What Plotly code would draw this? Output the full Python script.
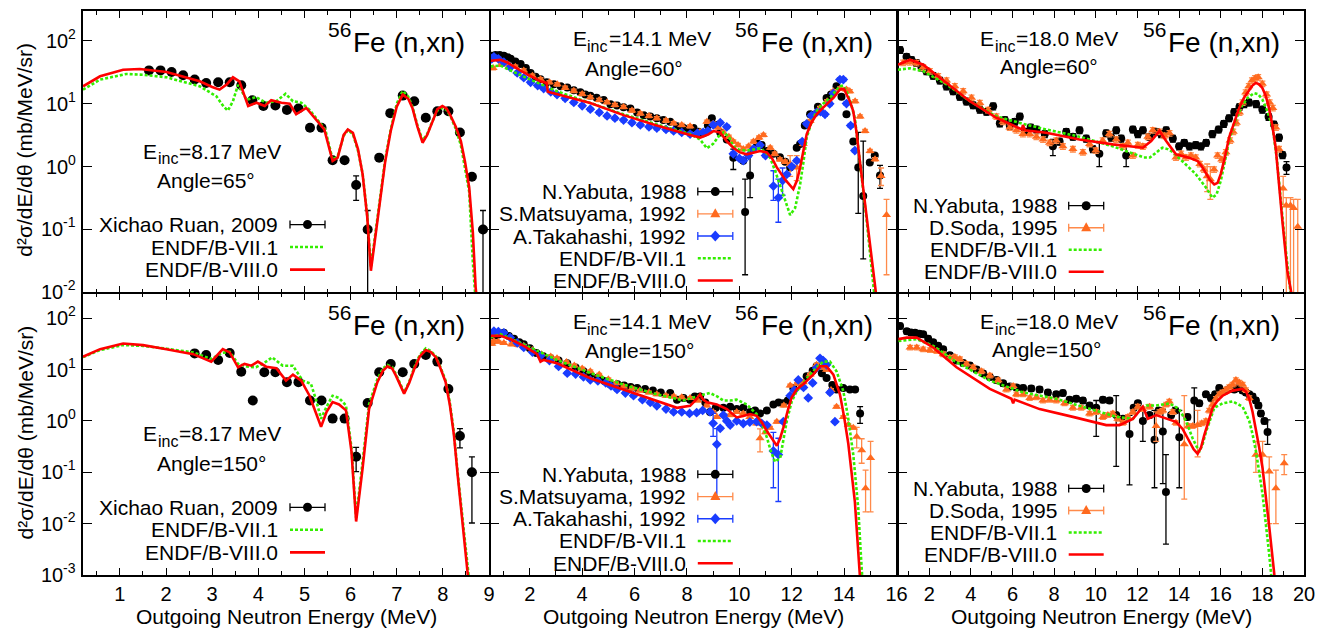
import numpy as np
import plotly.graph_objects as go

FONT = "Liberation Sans"
RED = "#ff0000"
GREEN = "#33ee00"
ORANGE = "#ff6a1f"
ORANGE_BAR = "#ff8a4a"
BLUE = "#1a3cff"
BLACK = "#000000"

# ---------------- 8.17 MeV, 65 deg ----------------
RUAN65_E = [1.63, 1.88, 2.12, 2.37, 2.62, 2.87, 3.13, 3.38, 3.63, 3.87, 4.11, 4.37, 4.62, 4.87,
            5.12, 5.37, 5.61, 5.87, 6.12, 6.37, 6.62, 6.86, 7.13, 7.38, 7.63, 7.88, 8.12, 8.37,
            8.63, 8.87]
RUAN65_Y = [34, 34, 32, 28.4, 24.3, 21.4, 22, 22, 19.7, 11.4, 9.2, 9.4, 8.0, 8.4,
            4.15, 4.15, 1.26, 1.26, 0.51, 0.10, 1.39, 7.1, 13.5, 11, 6.0, 7.6, 7.6, 3.5,
            0.69, 0.10]
RUAN65_BARS = {6.12: (0.29, 0.71), 6.37: (0.0, 0.2), 8.87: (0.0, 0.2)}

B8_65_E = [0.2, 0.57, 1.07, 1.43, 2.01, 2.73, 3.0, 3.16, 3.32, 3.45, 3.59, 3.78, 3.96, 4.14,
           4.28, 4.50, 4.68, 4.82, 5.04, 5.25, 5.43, 5.61, 5.72, 5.85, 5.94, 6.05, 6.16, 6.26,
           6.36, 6.44, 6.53, 6.62, 6.75, 6.87, 7.0, 7.13, 7.25, 7.34, 7.45, 7.56, 7.66, 7.78,
           7.88, 7.99, 8.08, 8.17, 8.28, 8.39, 8.48, 8.57, 8.65, 8.71, 8.78]
B8_65_Y = [19.0, 27.4, 34.9, 35.8, 32.1, 22.8, 18.5, 16.8, 20.5, 26.4, 22.8, 9.2, 10.4, 9.2,
           11.4, 10.4, 10.0, 6.8, 8.6, 5.6, 3.9, 1.23, 1.39, 3.2, 3.9, 3.46, 1.9, 0.76,
           0.16, 0.022, 0.07, 0.22, 1.2, 3.7, 9.0, 14.0, 12.0, 8.6, 4.3, 2.4, 3.2, 5.3,
           8.2, 9.2, 8.4, 6.4, 4.3, 2.55, 1.2, 0.47, 0.09, 0.012, 0.004]
B7_65_E = [0.2, 0.57, 1.14, 1.5, 2.01, 2.73, 3.09, 3.25, 3.34, 3.45, 3.56, 3.75, 3.95, 4.17,
           4.39, 4.59, 4.75, 4.93, 5.11, 5.30, 5.45, 5.61, 5.72, 5.85, 5.94, 6.05, 6.16, 6.26,
           6.36, 6.44, 6.53, 6.62, 6.75, 6.87, 7.0, 7.13, 7.25, 7.34, 7.45, 7.56, 7.66, 7.78,
           7.88, 7.99, 8.08, 8.17, 8.28, 8.39, 8.48, 8.57, 8.65, 8.72]
B7_65_Y = [16.8, 24.3, 29.8, 29.0, 26.4, 19.0, 13.2, 9.0, 7.8, 11.0, 20.0, 11.6, 12.8, 10.4,
           11.0, 14.4, 11.0, 10.4, 8.0, 5.3, 3.9, 1.3, 1.45, 3.1, 3.8, 3.3, 1.8, 0.78,
           0.17, 0.025, 0.08, 0.24, 1.3, 3.9, 10.0, 16.0, 13.0, 9.0, 4.5, 2.6, 3.3, 5.4,
           7.8, 8.6, 8.0, 6.2, 4.0, 2.2, 1.0, 0.4, 0.03, 0.006]

# ---------------- 8.17 MeV, 150 deg ----------------
RUAN150_E = [2.62, 2.87, 3.13, 3.38, 3.63, 3.88, 4.13, 4.37, 4.62, 4.87, 5.12, 5.37, 5.61,
             5.87, 6.12, 6.37, 6.62, 6.87, 7.13, 7.38, 7.63, 7.88, 8.12, 8.37, 8.63]
RUAN150_Y = [20.7, 19.2, 15.4, 21, 9.1, 2.5, 8.9, 8.9, 5.7, 5.7, 2.5, 2.5, 1.11,
             1.11, 0.20, 2.23, 8.9, 12.9, 8.9, 12.9, 19.2, 14.3, 4.2, 0.51, 0.10]
RUAN150_BARS = {6.12: (0.103, 0.305), 8.37: (0.30, 0.71), 8.63: (0.0103, 0.2)}

B8_150_E = [0.2, 0.57, 1.07, 1.5, 2.01, 2.59, 2.98, 3.12, 3.23, 3.38, 3.56, 3.70, 3.85, 3.99,
            4.17, 4.39, 4.60, 4.75, 4.93, 5.11, 5.25, 5.36, 5.48, 5.61, 5.75, 5.90, 6.02, 6.12,
            6.26, 6.40, 6.58, 6.70, 6.80, 6.90, 6.98, 7.08, 7.16, 7.27, 7.38, 7.5, 7.63, 7.74,
            7.85, 7.95, 8.06, 8.15, 8.24, 8.32, 8.39, 8.53, 8.6]
B8_150_Y = [17.8, 25, 32.3, 30, 25, 20, 14.3, 20, 25, 21.6, 11.1, 12.9, 11.9, 14.3,
            11.4, 10.6, 6.1, 8.0, 6.1, 3.1, 1.4, 0.77, 1.5, 2.33, 2.1, 1.61, 0.25, 0.011,
            0.12, 1.7, 5.7, 9.5, 11.6, 10.5, 7.7, 4.8, 3.4, 5.5, 10.3, 18, 24, 22,
            17.3, 10.5, 5.7, 2.1, 0.53, 0.09, 0.020, 0.001, 0.0003]
B7_150_E = [0.2, 0.57, 1.07, 1.5, 2.01, 2.59, 2.98, 3.2, 3.38, 3.56, 3.75, 3.95, 4.1, 4.3,
            4.53, 4.75, 4.96, 5.14, 5.25, 5.36, 5.48, 5.61, 5.75, 5.90, 6.02, 6.12, 6.26,
            6.40, 6.58, 6.70, 6.80, 6.90, 6.98, 7.08, 7.16, 7.27, 7.38, 7.5, 7.63, 7.74,
            7.85, 7.95, 8.06, 8.15, 8.24, 8.32, 8.39, 8.55, 8.62]
B7_150_Y = [17.5, 24, 30, 29, 25.5, 21.6, 16.1, 21, 22.3, 12.9, 11.5, 11.1, 13, 17.3,
            11.9, 11.9, 6.1, 5.3, 2.6, 1.1, 1.9, 3.1, 2.8, 2.0, 0.3, 0.013, 0.16,
            2.1, 6.5, 10.5, 12.3, 11.2, 8.2, 5.0, 3.6, 5.8, 11, 19.5, 26, 23,
            18, 11, 6.1, 2.3, 0.6, 0.1, 0.025, 0.001, 0.0003]

# ---------------- 14.1 MeV, 60 deg ----------------
YAB14_60_E = [0.55, 0.69, 0.85, 1.01, 1.15, 1.27, 1.45, 1.65, 1.85, 2.03, 2.22, 2.41, 2.65,
              2.92, 3.18, 3.43, 3.68, 3.93, 4.12, 4.31, 4.55, 4.82, 5.08, 5.33, 5.58, 5.84,
              6.1, 6.35, 6.6, 6.85, 7.1, 7.36, 7.62, 7.87, 8.06, 8.25, 8.44, 8.63, 8.8, 8.95,
              9.14, 9.27, 9.52, 9.77, 10.15, 10.22, 10.41, 10.66, 10.85, 11.05, 11.3, 11.55,
              11.75, 11.94, 12.19, 12.32, 12.5, 12.7, 13.0, 13.33, 13.5, 13.71, 13.9, 14.09,
              14.35, 14.54, 14.73, 14.98, 15.17, 15.37]
YAB14_60_Y = [58, 60, 60, 58, 55, 52, 47, 43, 37, 31, 27, 24.5, 22,
              20.4, 19, 18.1, 16.5, 15.2, 14, 13.4, 12.5, 11.5, 9.8, 9.4, 8.8, 8.4,
              7.3, 6.6, 6.3, 5.9, 5.5, 5.2, 4.4, 4.1, 3.9, 4.1, 3.6, 3.4, 4.5, 5.9,
              4.6, 3.5, 2.7, 1.39, 1.24, 0.19, 0.72, 2.4, 2.2, 1.77, 1.6, 1.41,
              1.2, 0.97, 2.0, 2.3, 4.5, 6.8, 9.0, 12.4, 14, 19, 13, 6.8,
              2.5, 0.97, 0.34, 1.16, 1.5, 0.72]
YAB14_60_BARS = {9.77: (0.9, 1.9), 10.22: (0.019, 0.63), 10.41: (0.32, 2.1),
                 14.54: (0.18, 3.5), 14.73: (0.034, 2.55), 15.37: (0.45, 1.05)}

MAT14_60_E = [0.6, 0.9, 1.14, 1.45, 1.77, 2.1, 2.41, 2.75, 3.05, 3.35, 3.68, 4.0, 4.31, 4.65,
              4.95, 5.25, 5.58, 5.9, 6.22, 6.55, 6.85, 7.2, 7.49, 7.8, 8.12, 8.5, 8.76, 9.0,
              9.2, 9.39, 9.6, 9.77, 9.95, 10.15, 10.35, 10.54, 10.75, 10.92, 11.18, 11.35,
              11.55, 11.75, 11.94, 12.19, 12.44, 12.7, 13.08, 13.35, 13.59, 13.85, 14.09,
              14.22, 14.42, 14.61, 14.8, 14.99, 15.18, 15.41, 15.62]
MAT14_60_Y = [37, 42, 43, 39, 34, 28, 24.5, 22, 20.4, 18, 16.1, 14.3, 12.7, 11.5,
              10.6, 9.6, 8.9, 7.8, 7.0, 6.4, 5.9, 5.4, 4.9, 4.6, 4.4, 3.6, 5.2, 4.8,
              4.2, 3.5, 3.0, 2.5, 2.2, 1.9, 2.1, 2.5, 2.9, 3.2, 2.0, 1.6,
              1.3, 1.2, 1.1, 0.97, 2.3, 5.3, 8.6, 11, 15.9, 17.5, 16.9,
              15.9, 11, 6.3, 3.7, 1.78, 1.31, 0.71, 0.17]
MAT14_60_BARS = {11.94: (0.7, 1.5), 12.19: (0.6, 1.5), 15.41: (0.5, 0.95),
                 15.62: (0.019, 0.30)}

TAK14_60_E = [0.55, 0.63, 0.8, 1.01, 1.25, 1.52, 1.77, 2.03, 2.3, 2.53, 2.8, 3.04, 3.35,
              3.68, 4.0, 4.31, 4.65, 4.95, 5.25, 5.58, 5.9, 6.22, 6.55, 6.85, 7.2, 7.49,
              7.8, 8.12, 8.4, 8.62, 8.8, 9.0, 9.27, 9.52, 9.77, 10.0, 10.15, 10.35, 10.54,
              10.79, 11.0, 11.3, 11.49, 11.65, 11.81, 12.0, 12.19, 12.4, 12.57, 12.75,
              12.95, 13.1, 13.27, 13.45, 13.59, 13.84, 13.97, 14.09, 14.25, 14.41]
TAK14_60_Y = [52, 56, 52, 46, 38, 31, 26, 22, 19.5, 17.5, 15.5, 14, 12.2,
              10.5, 9.3, 8.2, 7.3, 6.4, 5.9, 5.5, 5.0, 4.6, 4.3, 4.1, 3.9, 3.7,
              3.5, 3.3, 3.4, 3.5, 3.7, 4.6, 5.0, 4.3, 1.6, 1.35, 1.24, 1.5, 1.9,
              2.2, 1.5, 0.49, 0.32, 0.6, 0.75, 1.0, 1.24, 2.5, 4.8, 6.5,
              7.3, 7.5, 6.8, 10, 14.6, 24.3, 24.3, 10.1, 4.5, 1.8]
TAK14_60_BARS = {11.3: (0.29, 0.86), 11.49: (0.13, 0.63), 11.65: (0.35, 0.95)}

B8_14_60_E = [0.5, 0.88, 1.14, 1.77, 2.41, 2.64, 2.69, 3.04, 4.31, 5.58, 6.85, 8.12, 8.51,
              8.82, 9.01, 9.27, 9.5, 9.77, 10.0, 10.28, 10.55, 10.79, 11.05, 11.25, 11.43,
              11.75, 12.06, 12.2, 12.32, 12.45, 12.57, 12.75, 12.95, 13.15, 13.33, 13.6,
              13.84, 14.0, 14.09, 14.22, 14.35, 14.47, 14.6, 14.73, 14.86, 15.11, 15.21, 15.3]
B8_14_60_Y = [48.5, 50, 45.5, 31.5, 22.8, 21.5, 15.6, 14.2, 10.3, 6.6, 4.5, 3.2, 2.9,
              3.26, 3.68, 3.5, 2.6, 2.0, 1.7, 1.57, 1.65, 1.77, 1.68, 1.35, 0.97,
              0.62, 0.44, 0.6, 0.97, 1.9, 3.26, 5.0, 6.8, 8.3, 9.8, 12.5,
              16.9, 17.2, 14.2, 11.0, 7.6, 3.6, 1.23, 0.45, 0.155, 0.02, 0.01, 0.005]
B7_14_60_E = [0.5, 0.88, 1.77, 3.04, 4.31, 5.58, 6.85, 8.12, 8.5, 8.76, 9.0, 9.2, 9.4, 9.6,
              9.77, 10.0, 10.28, 10.55, 10.79, 11.0, 11.18, 11.37, 11.55, 11.75, 11.94, 12.13,
              12.32, 12.45, 12.57, 12.75, 12.95, 13.2, 13.46, 13.65, 13.84, 13.97, 14.09,
              14.25, 14.41, 14.6, 14.73, 14.86, 15.1, 15.2]
B7_14_60_Y = [39.4, 40.5, 27, 15.8, 10.3, 6.8, 4.7, 3.3, 2.7, 1.96, 2.3, 3.0, 3.5, 3.0,
              2.1, 1.85, 1.8, 1.9, 1.95, 1.7, 1.37, 0.85, 0.52, 0.28, 0.17, 0.22,
              0.52, 1.2, 2.9, 5.0, 7.6, 10, 12.4, 15.5, 19, 19.5, 15.9,
              10.5, 5.9, 1.23, 0.45, 0.14, 0.015, 0.006]

# ---------------- 14.1 MeV, 150 deg ----------------
YAB14_150_E = [0.55, 0.63, 0.8, 1.01, 1.2, 1.4, 1.6, 1.77, 2.0, 2.25, 2.5, 2.79, 3.1, 3.43,
               3.75, 4.05, 4.31, 4.6, 4.85, 5.08, 5.35, 5.6, 5.85, 6.1, 6.4, 6.7, 7.0, 7.36,
               7.62, 7.87, 8.12, 8.3, 8.5, 8.7, 8.88, 9.1, 9.39, 9.65, 9.9, 10.15, 10.41,
               10.6, 10.79, 11.05, 11.3, 11.5, 11.68, 11.85, 12.06, 12.3, 12.57, 12.8, 12.95,
               13.15, 13.33, 13.55, 13.71, 13.97, 14.22, 14.42, 14.61]
YAB14_150_Y = [35, 39, 48, 52, 45, 40, 34, 31, 26, 21, 18.5, 16.6, 15, 13.3,
               11, 9.3, 7.9, 7.0, 6.0, 5.1, 5.2, 4.9, 4.6, 4.4, 4.2, 3.9, 3.6, 3.5,
               2.6, 2.8, 2.6, 3.0, 3.0, 2.3, 1.5, 1.8, 1.8, 1.9, 1.7, 1.8, 1.5,
               1.6, 1.4, 1.6, 2.1, 2.3, 2.2, 2.5, 4.4, 5.6, 7.4, 9.5, 11.6,
               8.5, 6.9, 5.0, 4.1, 4.4, 4.1, 4.1, 1.39]
YAB14_150_BARS = {14.61: (0.9, 1.9)}

MAT14_150_E = [0.55, 0.63, 0.8, 1.01, 1.3, 1.55, 1.77, 2.1, 2.45, 2.8, 3.04, 3.4, 3.7, 4.0,
               4.31, 4.65, 5.0, 5.3, 5.58, 5.9, 6.2, 6.55, 6.85, 7.2, 7.5, 7.8, 8.12, 8.4,
               8.76, 9.0, 9.14, 9.4, 9.65, 9.9, 10.15, 10.4, 10.66, 10.79, 11.0, 11.17, 11.43,
               11.7, 11.94, 12.2, 12.44, 12.7, 12.95, 13.15, 13.33, 13.5, 13.71, 13.97, 14.16,
               14.35, 14.48, 14.67, 14.82, 15.01]
MAT14_150_Y = [32, 36, 35, 33, 31, 30, 29, 24, 20, 18, 16.6, 14, 12, 10.5,
               9.3, 8, 6.5, 5.4, 4.7, 4.3, 3.9, 3.6, 3.3, 3.1, 3.0, 2.9, 2.8, 2.5,
               2.0, 1.5, 1.2, 1.3, 1.3, 1.5, 1.4, 1.2, 0.89, 0.46, 0.6, 0.74, 0.97,
               2.0, 4.9, 5.3, 5.7, 8, 12.4, 11, 9.9, 4, 1.9, 1.2, 0.84,
               0.74, 0.49, 0.27, 0.049, 0.19]
MAT14_150_BARS = {10.79: (0.25, 0.7), 14.48: (0.3, 0.75), 14.67: (0.15, 0.45),
                  14.82: (0.017, 0.11), 15.01: (0.017, 0.4)}

TAK14_150_E = [0.55, 0.63, 0.8, 1.01, 1.25, 1.52, 1.77, 2.1, 2.41, 2.75, 3.1, 3.43, 3.75,
               4.05, 4.31, 4.6, 4.9, 5.1, 5.33, 5.65, 5.96, 6.3, 6.6, 6.85, 7.2, 7.49, 7.8,
               8.1, 8.37, 8.6, 8.88, 9.0, 9.14, 9.27, 9.39, 9.52, 9.65, 9.9, 10.15, 10.4,
               10.66, 10.85, 11.05, 11.3, 11.49, 11.68, 11.94, 12.1, 12.25, 12.45, 12.63,
               12.8, 12.95, 13.08, 13.2, 13.33, 13.46, 13.65]
TAK14_150_Y = [50, 56, 55, 52, 42, 33, 27, 22, 18.6, 15, 11.5, 8.5, 8.2,
               7.2, 6.3, 6.0, 5.5, 4.8, 4.1, 3.5, 3.1, 2.6, 2.3, 1.97, 1.7, 1.5, 1.5,
               1.4, 1.45, 1.6, 1.5, 0.9, 0.35, 0.72, 1.3, 1.0, 0.83, 1.0, 0.89, 0.95,
               0.97, 0.9, 0.83, 0.26, 0.22, 0.97, 3.1, 4.0, 6.3, 4.5, 2.8,
               5.5, 10.7, 16.6, 15, 12.4, 3.6, 0.97]
TAK14_150_BARS = {9.0: (0.5, 1.4), 9.14: (0.03, 0.71), 11.3: (0.05, 0.6),
                  11.49: (0.027, 0.46)}

B8_14_150_E = [0.5, 0.88, 1.27, 1.77, 2.28, 2.41, 2.53, 3.04, 4.31, 5.58, 6.85, 7.62, 8.12,
               8.35, 8.5, 8.62, 8.76, 9.14, 9.52, 9.9, 10.15, 10.41, 10.66, 10.85, 11.05,
               11.25, 11.43, 11.55, 11.68, 11.85, 12.0, 12.2, 12.44, 12.82, 13.08, 13.33,
               13.59, 13.84, 14.0, 14.16, 14.3, 14.41, 14.6, 14.7]
B8_14_150_Y = [45.4, 45.4, 39, 29, 20, 14.3, 15.4, 13.3, 6.8, 4.1, 2.5, 1.8, 1.97,
               2.6, 3.3, 2.6, 2.3, 2.1, 1.7, 1.17, 1.25, 1.36, 1.26, 0.95, 0.64,
               0.45, 0.33, 0.45, 0.74, 1.6, 2.9, 4.2, 5.2, 8.0, 11.6, 11.6,
               8.0, 3.3, 1.2, 0.36, 0.08, 0.027, 0.001, 0.0003]
B7_14_150_E = [0.5, 0.88, 1.77, 3.04, 4.31, 5.58, 6.85, 7.87, 8.37, 8.88, 9.15, 9.39, 9.65,
               9.9, 10.28, 10.66, 10.85, 11.05, 11.2, 11.36, 11.56, 11.81, 12.0, 12.19, 12.45,
               12.7, 13.0, 13.2, 13.46, 13.71, 13.97, 14.15, 14.35, 14.54, 14.65, 14.75]
B7_14_150_Y = [42, 49, 31, 15.4, 8.6, 5.1, 3.3, 2.5, 3.0, 3.5, 3.0, 2.5, 2.5,
               2.6, 2.1, 1.36, 0.9, 0.48, 0.26, 0.16, 0.19, 1.0, 2.4, 3.8, 5.5,
               8.0, 11.5, 14.3, 14.3, 9.3, 3.8, 1.2, 0.22, 0.02, 0.002, 0.0003]

# ---------------- 18.0 MeV, 60 deg ----------------
YAB18_60_E = [0.6, 0.91, 1.15, 1.39, 1.63, 1.87, 2.19, 2.51, 2.83, 3.15, 3.47, 3.79, 4.11,
              4.43, 4.75, 5.07, 5.39, 5.63, 5.87, 6.11, 6.35, 6.59, 6.87, 7.15, 7.55, 7.94,
              8.26, 8.58, 8.9, 9.22, 9.54, 9.86, 10.17, 10.5, 10.74, 10.98, 11.22, 11.46,
              11.78, 12.02, 12.26, 12.58, 12.9, 13.14, 13.38, 13.7, 14.0, 14.25, 14.5, 14.8,
              15.05, 15.3, 15.6, 15.9, 16.15, 16.4, 16.65, 16.9, 17.13, 17.36, 17.7, 18.0,
              18.3, 18.56, 18.8, 18.97, 19.16]
YAB18_60_Y = [72, 56, 50, 44.7, 38, 33, 28, 23.5, 19, 15.9, 13, 10.9, 9.5,
              8.1, 7.5, 9.1, 4.9, 5.5, 4.5, 5.2, 6.3, 3.6, 4.2, 3.9, 3.3, 2.1,
              2.5, 3.6, 3.0, 3.8, 2.8, 1.9, 1.6, 3.4, 2.9, 3.8, 2.8, 1.5,
              3.9, 3.3, 3.8, 3.0, 3.6, 3.3, 3.8, 2.8, 2.1, 2.4, 2.1, 2.2,
              2.1, 2.4, 3.3, 3.9, 4.8, 5.9, 7.4, 8.9, 9.9, 10.5, 9.9, 8.1,
              6.2, 4.7, 2.9, 1.53, 0.97]
YAB18_60_BARS = {10.17: (1.0, 2.4), 11.46: (1.0, 2.2), 7.94: (1.5, 2.7),
                 19.16: (0.75, 1.2)}

SODA60_E = [0.75, 1.07, 1.39, 1.71, 2.03, 2.43, 2.83, 3.23, 3.63, 4.03, 4.43, 4.83, 5.23,
            5.55, 5.87, 6.19, 6.5, 6.83, 7.15, 7.47, 7.78, 8.1, 8.42, 8.9, 9.38, 9.7, 10.0,
            10.33, 10.65, 10.98, 11.3, 11.54, 11.78, 12.02, 12.26, 12.5, 12.74, 13.06, 13.3,
            13.54, 13.85, 14.1, 14.33, 14.57, 14.8, 15.0, 15.2, 15.35, 15.5, 15.68, 15.85,
            16.05, 16.25, 16.45, 16.6, 16.75, 16.9, 17.05, 17.2, 17.35, 17.5, 17.65, 17.8,
            18.0, 18.2, 18.35, 18.5, 18.65, 18.8, 19.0, 19.15, 19.35, 19.5, 19.7]
SODA60_Y = [45, 46, 44.7, 38, 33, 27.5, 23.5, 19, 15.9, 12.5, 10.3, 8, 6.3,
            5.2, 4.2, 3.8, 3.3, 3.3, 3.0, 2.7, 2.4, 2.6, 2.1, 1.9, 1.7, 2.3, 1.8,
            2.6, 3.3, 2.7, 2.1, 2.4, 1.5, 2.2, 2.1, 3.0, 3.8, 3.6, 3.1,
            3.4, 1.4, 1.6, 1.4, 1.5, 1.4, 1.1, 0.9, 0.7, 0.63, 0.9, 1.5,
            1.3, 1.7, 2.6, 3.6, 5.0, 7.3, 10.5, 15.1, 19, 23.5, 25.5, 26.5,
            20.9, 14, 10.5, 8.6, 4.2, 1.9, 0.45, 0.24, 0.24, 0.22, 0.11]
SODA60_BARS = {15.35: (0.4, 1.1), 15.5: (0.3, 1.0), 19.0: (0.25, 0.7),
               19.15: (0.0, 0.32), 19.35: (0.0, 0.32), 19.5: (0.0, 0.3), 19.7: (0.0, 0.3)}

B8_18_60_E = [0.5, 1.08, 1.71, 2.83, 3.95, 5.23, 6.45, 6.5, 6.6, 7.62, 9.22, 10.82, 12.26,
              12.66, 13.06, 13.38, 13.85, 14.48, 14.89, 15.1, 15.3, 15.5, 15.69, 15.85, 16.0,
              16.2, 16.4, 16.65, 16.89, 17.12, 17.36, 17.52, 17.68, 17.84, 18.0, 18.16, 18.32,
              18.48, 18.64, 18.8, 18.96, 19.2, 19.44]
B8_18_60_Y = [41.9, 50.3, 41.9, 21.5, 11, 6.0, 3.9, 4.6, 3.8, 3.46, 2.7, 2.26, 2.0,
              2.55, 3.7, 2.55, 1.57, 1.39, 1.23, 1.0, 0.76, 0.6, 0.52, 0.55, 0.76,
              1.4, 2.9, 5.2, 8.6, 12.5, 16.8, 19.5, 21.5, 20.5, 17.9, 13.5, 8.6,
              4.5, 2.0, 0.6, 0.138, 0.022, 0.008]
B7_18_60_E = [0.5, 1.08, 1.71, 2.83, 3.95, 5.23, 6.5, 7.62, 9.22, 10.82, 11.6, 12.3, 12.6,
              12.9, 13.2, 13.45, 13.7, 14.3, 14.8, 15.3, 15.6, 15.8, 16.0, 16.2, 16.4, 16.7,
              17.0, 17.3, 17.6, 17.8, 18.0, 18.25, 18.5, 18.7, 18.88, 19.05, 19.2, 19.35]
B7_18_60_Y = [34.9, 36.8, 33, 20.4, 11, 6.3, 4.8, 3.9, 3.0, 2.1, 1.7, 1.4, 1.4,
              1.7, 2.0, 1.9, 1.7, 1.1, 0.76, 0.46, 0.32, 0.36, 0.59, 1.2, 2.6, 5.3,
              9.1, 12.5, 14.8, 14.2, 11.7, 7.5, 4.1, 1.3, 0.29, 0.08, 0.028, 0.01]

# ---------------- 18.0 MeV, 150 deg ----------------
YAB18_150_E = [0.6, 0.92, 1.12, 1.32, 1.52, 1.71, 1.95, 2.19, 2.43, 2.67, 2.99, 3.31, 3.63,
               3.95, 4.27, 4.59, 4.91, 5.23, 5.55, 5.87, 6.19, 6.51, 6.9, 7.3, 7.7, 8.1,
               8.42, 8.74, 9.06, 9.38, 9.7, 10.02, 10.34, 10.66, 10.98, 11.3, 11.62, 11.82,
               12.02, 12.26, 12.58, 12.82, 13.02, 13.22, 13.37, 13.62, 13.82, 14.01, 14.4,
               14.73, 14.97, 15.29, 15.53, 15.73, 15.93, 16.25, 16.45, 16.65, 16.85, 17.05,
               17.21, 17.37, 17.53, 17.69, 17.81, 17.93, 18.1, 18.25]
YAB18_150_Y = [71, 56, 53, 52, 50, 49, 40, 34, 29, 25, 19, 15, 13.5,
               12, 10, 8.4, 7.2, 6.3, 5.4, 4.7, 4.5, 4.4, 4.3, 4.1, 3.6, 3.3,
               3.5, 2.6, 2.7, 2.5, 2.0, 1.8, 2.6, 2.5, 1.3, 1.1, 0.56, 1.8,
               2.2, 1.0, 1.3, 0.43, 1.6, 0.62, 0.0413, 1.3, 1.6, 0.48, 1.2,
               2.5, 2.2, 3.3, 2.8, 3.3, 4.4, 3.9, 4.3, 4.1, 4.4, 3.9,
               3.6, 3.3, 3.0, 2.5, 2.0, 1.4, 1.0, 0.61]
YAB18_150_BARS = {10.02: (0.5, 2.5), 10.98: (0.13, 3.1), 11.62: (0.057, 1.29),
                  12.26: (0.4, 1.6), 12.82: (0.05, 1.6), 13.22: (0.06, 1.7),
                  13.37: (0.004, 0.22), 14.01: (0.05, 1.6), 14.73: (0.84, 4.4),
                  18.25: (0.35, 1.05)}

SODA150_E = [1.08, 1.4, 1.71, 2.03, 2.35, 2.67, 2.99, 3.23, 3.47, 3.79, 4.11, 4.51, 4.91,
             5.31, 5.71, 6.03, 6.19, 6.51, 6.83, 7.15, 7.46, 7.78, 8.1, 8.5, 8.9, 9.3, 9.7,
             10.02, 10.34, 10.58, 10.82, 11.06, 11.3, 11.54, 11.78, 12.02, 12.26, 12.58,
             12.9, 13.06, 13.22, 13.38, 13.53, 13.69, 13.85, 14.25, 14.45, 14.65, 14.89,
             15.09, 15.29, 15.45, 15.61, 15.77, 15.93, 16.09, 16.25, 16.41, 16.57, 16.73,
             16.89, 17.05, 17.21, 17.37, 17.69, 18.01, 18.33, 18.65, 19.05]
SODA150_Y = [27, 27, 25, 24, 23, 20, 17, 17.5, 16, 13, 11.1, 9.3, 7.7,
             6.2, 4.1, 4.8, 3.3, 3.3, 2.8, 2.9, 2.5, 2.6, 2.5, 2.2, 1.8, 1.8, 1.4,
             1.5, 1.2, 1.3, 1.4, 1.1, 0.92, 1.2, 1.5, 1.9, 1.7, 1.9,
             0.8, 1.5, 1.6, 2.1, 2.4, 1.5, 0.92, 0.35, 0.8, 0.8, 0.83,
             0.9, 1.0, 1.6, 2.1, 2.7, 3.3, 3.6, 4.1, 4.6, 5.1, 6.3,
             5.6, 5.1, 4.0, 2.8, 0.22, 0.22, 0.104, 0.049, 0.15]
SODA150_BARS = {12.9: (0.4, 1.5), 14.25: (0.03, 3.1), 14.89: (0.2, 1.6),
                17.69: (0.1, 0.4), 18.01: (0.1, 0.4), 18.33: (0.01, 0.2),
                18.65: (0.01, 0.11), 19.05: (0.09, 0.22)}

B8_18_150_E = [0.52, 0.92, 1.4, 2.19, 3.31, 4.91, 5.95, 6.03, 6.1, 7.3, 8.9, 10.5, 11.14,
               11.78, 12.26, 12.5, 12.9, 13.37, 13.85, 14.17, 14.49, 14.7, 14.89, 15.05,
               15.21, 15.4, 15.61, 15.85, 16.09, 16.57, 17.05, 17.22, 17.37, 17.53, 17.69,
               17.85, 18.01, 18.17, 18.33, 18.57, 18.7]
B8_18_150_Y = [39.2, 42, 42, 27, 11.1, 4.2, 2.7, 2.2, 2.6, 1.7, 1.2, 0.83, 0.83,
               1.1, 1.9, 1.1, 1.3, 1.1, 0.96, 0.7, 0.4, 0.28, 0.23, 0.3,
               0.53, 1.0, 1.8, 2.5, 3.1, 3.9, 4.2, 3.7, 2.7, 1.5, 0.72,
               0.3, 0.12, 0.035, 0.0087, 0.00106, 0.0003]
B7_18_150_E = [0.52, 1.4, 2.19, 3.31, 4.91, 6.51, 8.1, 9.7, 11.0, 11.78, 12.1, 12.42, 12.9,
               13.53, 14.0, 14.33, 14.65, 14.97, 15.13, 15.29, 15.49, 15.69, 16.09, 16.57,
               17.05, 17.37, 17.53, 17.69, 17.85, 18.01, 18.33, 18.45]
B7_18_150_Y = [36, 39, 29, 13.9, 6.1, 3.6, 2.7, 1.7, 1.2, 1.1, 1.6, 2.0, 2.0,
               2.2, 1.7, 1.0, 0.46, 0.25, 0.35, 0.61, 1.1, 1.8, 2.2, 2.4,
               1.9, 1.0, 0.55, 0.26, 0.1, 0.037, 0.0025, 0.0008]

# ---------------- axes and layout geometry ----------------
W, H = 1327, 632
ML, MR, MT, MB = 83, 23, 9, 57
PW = W - ML - MR            # plotting width across the three columns
PH = H - MT - MB
GAP = 1.5                   # lets the frame lines of neighbouring panels coincide
COLW = (PW - 2 * GAP) / 3
ROWH = (PH - GAP) / 2

X_RANGES = [(0.2, 9.0), (0.5, 16.0), (0.5, 20.0)]
X_DTICK = [1, 2, 2]
X_MINOR = [0.5, 1, 1]
Y_LOW_EXP = [-2, -3]
Y_HIGH = 300
TICK_SIZE = 20
TICK_FONT = dict(family=FONT, size=TICK_SIZE, color=BLACK)
TEXT_SIZE = 21


def sfx(k):
    return "" if k == 0 else str(k + 1)


def col_left(c):
    return ML + c * (COLW + GAP)


def row_top(r):
    return MT + r * (ROWH + GAP)


def paper_x(xp):
    return (xp - ML) / PW


def paper_y(yp):
    return (H - MB - yp) / PH


fig = go.Figure()


def add_line(k, e, v, color, dash, width=2.6):
    s = sfx(k)
    fig.add_trace(go.Scatter(
        x=e, y=v, mode="lines", xaxis="x" + s, yaxis="y" + s,
        line=dict(color=color, width=width, dash=dash),
        showlegend=False, hoverinfo="skip"))


def add_exp(k, e, v, bars, rel, color, bar_color, symbol, size):
    s = sfx(k)
    e = np.asarray(e, float)
    v = np.asarray(v, float)
    lo = v * (1 - rel)
    hi = v * (1 + rel)
    for en, (l, h) in bars.items():
        i = int(np.argmin(np.abs(e - en)))
        lo[i], hi[i] = l, h
    fig.add_trace(go.Scatter(
        x=e, y=v, mode="markers", xaxis="x" + s, yaxis="y" + s,
        marker=dict(symbol=symbol, size=size, color=color, line=dict(width=0)),
        error_y=dict(type="data", symmetric=False, array=hi - v, arrayminus=v - lo,
                     color=bar_color, thickness=1.3, width=3),
        showlegend=False, hoverinfo="skip"))


# panel 0: 8.17 MeV 65 deg, panel 3: 8.17 MeV 150 deg
add_exp(0, RUAN65_E, RUAN65_Y, RUAN65_BARS, 0.0, BLACK, BLACK, "circle", 10)
add_line(0, B7_65_E, B7_65_Y, GREEN, "3px,2px")
add_line(0, B8_65_E, B8_65_Y, RED, "solid")
add_exp(3, RUAN150_E, RUAN150_Y, RUAN150_BARS, 0.0, BLACK, BLACK, "circle", 10)
add_line(3, B7_150_E, B7_150_Y, GREEN, "3px,2px")
add_line(3, B8_150_E, B8_150_Y, RED, "solid")

# panel 1: 14.1 MeV 60 deg, panel 4: 14.1 MeV 150 deg
add_exp(1, YAB14_60_E, YAB14_60_Y, YAB14_60_BARS, 0.06, BLACK, BLACK, "circle", 8)
add_exp(1, MAT14_60_E, MAT14_60_Y, MAT14_60_BARS, 0.06, ORANGE, ORANGE_BAR, "triangle-up", 8)
add_exp(1, TAK14_60_E, TAK14_60_Y, TAK14_60_BARS, 0.06, BLUE, BLUE, "diamond", 7.5)
add_line(1, B7_14_60_E, B7_14_60_Y, GREEN, "3px,2px")
add_line(1, B8_14_60_E, B8_14_60_Y, RED, "solid")
add_exp(4, YAB14_150_E, YAB14_150_Y, YAB14_150_BARS, 0.06, BLACK, BLACK, "circle", 8)
add_exp(4, MAT14_150_E, MAT14_150_Y, MAT14_150_BARS, 0.06, ORANGE, ORANGE_BAR, "triangle-up", 8)
add_exp(4, TAK14_150_E, TAK14_150_Y, TAK14_150_BARS, 0.06, BLUE, BLUE, "diamond", 7.5)
add_line(4, B7_14_150_E, B7_14_150_Y, GREEN, "3px,2px")
add_line(4, B8_14_150_E, B8_14_150_Y, RED, "solid")

# panel 2: 18.0 MeV 60 deg, panel 5: 18.0 MeV 150 deg
add_exp(2, YAB18_60_E, YAB18_60_Y, YAB18_60_BARS, 0.12, BLACK, BLACK, "circle", 8)
add_exp(2, SODA60_E, SODA60_Y, SODA60_BARS, 0.1, ORANGE, ORANGE_BAR, "triangle-up", 8)
add_line(2, B7_18_60_E, B7_18_60_Y, GREEN, "3px,2px")
add_line(2, B8_18_60_E, B8_18_60_Y, RED, "solid")
add_exp(5, YAB18_150_E, YAB18_150_Y, YAB18_150_BARS, 0.12, BLACK, BLACK, "circle", 8)
add_exp(5, SODA150_E, SODA150_Y, SODA150_BARS, 0.1, ORANGE, ORANGE_BAR, "triangle-up", 8)
add_line(5, B7_18_150_E, B7_18_150_Y, GREEN, "3px,2px")
add_line(5, B8_18_150_E, B8_18_150_Y, RED, "solid")

layout = dict(
    width=W, height=H,
    margin=dict(l=ML, r=MR, t=MT, b=MB, pad=0),
    paper_bgcolor="white", plot_bgcolor="white",
    showlegend=False,
    font=dict(family=FONT, size=TEXT_SIZE, color=BLACK),
)

for k in range(6):
    r, c = divmod(k, 3)
    s = sfx(k)
    x0 = (col_left(c) - ML) / PW
    x1 = (col_left(c) + COLW - ML) / PW
    y1 = paper_y(row_top(r))
    y0 = paper_y(row_top(r) + ROWH)
    layout["xaxis" + s] = dict(
        domain=[x0, x1], anchor="y" + s,
        range=list(X_RANGES[c]), tick0=0, dtick=X_DTICK[c],
        ticks="inside", ticklen=7, tickwidth=1.2, tickcolor=BLACK,
        minor=dict(tick0=0, dtick=X_MINOR[c], ticks="inside", ticklen=4,
                   tickwidth=1.2, tickcolor=BLACK),
        showline=True, linewidth=1.5, linecolor=BLACK, mirror="ticks",
        showgrid=False, zeroline=False,
        showticklabels=(r == 1), tickfont=TICK_FONT,
    )
    layout["yaxis" + s] = dict(
        domain=[y0, y1], anchor="x" + s,
        type="log", range=[Y_LOW_EXP[r], np.log10(Y_HIGH)],
        tickvals=[10.0 ** d for d in range(Y_LOW_EXP[r], 3)],
        ticks="inside", ticklen=9, tickwidth=1.2, tickcolor=BLACK,
        showline=True, linewidth=1.5, linecolor=BLACK, mirror="ticks",
        showgrid=False, zeroline=False, showticklabels=False,
    )

annotations = []
shapes = []


def text(xp, yp, s, size=TEXT_SIZE, xanchor="center", angle=0, yshift=0):
    annotations.append(dict(
        x=paper_x(xp), y=paper_y(yp), xref="paper", yref="paper", text=s,
        showarrow=False, xanchor=xanchor, yanchor="middle", textangle=angle,
        yshift=yshift, borderpad=0, borderwidth=0,
        font=dict(family=FONT, size=size, color=BLACK)))


def seg(x0, y0, x1, y1, color, width, dash="solid"):
    shapes.append(dict(type="line", xref="paper", yref="paper",
                       x0=paper_x(x0), y0=paper_y(y0), x1=paper_x(x1), y1=paper_y(y1),
                       line=dict(color=color, width=width, dash=dash)))


def key_marker(cx, cy, symbol, color):
    if symbol == "circle":
        rad = 4.5
        shapes.append(dict(type="circle", xref="paper", yref="paper",
                           x0=paper_x(cx - rad), x1=paper_x(cx + rad),
                           y0=paper_y(cy + rad), y1=paper_y(cy - rad),
                           fillcolor=color, line=dict(width=0)))
        return
    if symbol == "triangle-up":
        pts = [(cx, cy - 5.5), (cx + 5, cy + 3.5), (cx - 5, cy + 3.5)]
    else:
        pts = [(cx, cy - 5.5), (cx + 5, cy), (cx, cy + 5.5), (cx - 5, cy)]
    path = "M " + " L ".join("%.5f,%.5f" % (paper_x(a), paper_y(b)) for a, b in pts) + " Z"
    shapes.append(dict(type="path", xref="paper", yref="paper", path=path,
                       fillcolor=color, line=dict(width=0)))


def key_row(x_text, y, label, kind, color=BLACK, bar_color=BLACK, symbol="circle"):
    text(x_text, y, label, xanchor="right")
    x0, x1 = x_text + 12, x_text + 47
    if kind == "exp":
        seg(x0, y, x1, y, bar_color, 1.3)
        seg(x0, y - 4, x0, y + 4, bar_color, 1.3)
        seg(x1, y - 4, x1, y + 4, bar_color, 1.3)
        key_marker((x0 + x1) / 2, y, symbol, color)
    elif kind == "dot":
        seg(x0, y, x1, y, GREEN, 2.6, "3px,2px")
    else:
        seg(x0, y, x1, y, RED, 2.6)


EINC_VALUE = ["=8.17 MeV", "=14.1 MeV", "=18.0 MeV"]
ANGLES = [["Angle=65°", "Angle=60°", "Angle=60°"],
          ["Angle=150°", "Angle=150°", "Angle=150°"]]
EINC_POS = [(60, 140.5), (82, 28), (82, 28)]
ANGLE_POS = [[(74, 170.5), (94, 58), (102, 56)],
             [(74, 170.5), (94, 57), (94, 56)]]
LEG_TEXT_X = [195, 195.3, 158.7]
LEG_Y0 = [214.3, 181.2, 195.4]
LEG_STEP = [22.6, 22.3, 22.1]
LEG_ROWS = [
    [("Xichao Ruan, 2009", "exp", BLACK, BLACK, "circle")],
    [("N.Yabuta, 1988", "exp", BLACK, BLACK, "circle"),
     ("S.Matsuyama, 1992", "exp", ORANGE, ORANGE_BAR, "triangle-up"),
     ("A.Takahashi, 1992", "exp", BLUE, BLUE, "diamond")],
    [("N.Yabuta, 1988", "exp", BLACK, BLACK, "circle"),
     ("D.Soda, 1995", "exp", ORANGE, ORANGE_BAR, "triangle-up")],
]

for k in range(6):
    r, c = divmod(k, 3)
    left = col_left(c)
    top = row_top(r)
    # nuclide label: mass number raised and smaller
    text(left + 245, top + 19, "56", size=21, xanchor="left")
    text(left + 270, top + 32, "Fe (n,xn)", size=28, xanchor="left")
    # incident energy with subscript "inc"
    ex, ey = EINC_POS[c]
    text(left + ex, top + ey, "E", xanchor="left")
    text(left + ex + 14.5, top + ey + 8, "inc", size=16, xanchor="left")
    text(left + ex + 36, top + ey, EINC_VALUE[c], xanchor="left")
    axp, ayp = ANGLE_POS[r][c]
    text(left + axp, top + ayp, ANGLES[r][c], xanchor="left")
    rows = LEG_ROWS[c] + [("ENDF/B-VII.1", "dot", None, None, None),
                          ("ENDF/B-VIII.0", "solid", None, None, None)]
    for i, (lab, kind, col, bcol, sym) in enumerate(rows):
        yy = top + LEG_Y0[c] + i * LEG_STEP[c]
        if kind == "exp":
            key_row(left + LEG_TEXT_X[c], yy, lab, kind, col, bcol, sym)
        else:
            key_row(left + LEG_TEXT_X[c], yy, lab, kind)
    if r == 1:
        text(left + COLW / 2, 616.5, "Outgoing Neutron Energy (MeV)")

# decade labels of the left axes: "10" with a raised exponent
EXP_SIZE = 14
for r in range(2):
    s = sfx(3 * r)
    for d in range(Y_LOW_EXP[r], 3):
        exp_txt = str(d)
        exp_w = sum(0.333 if ch == "-" else 0.556 for ch in exp_txt) * EXP_SIZE
        for txt, xr, size, ysh in (("10", 75.5 - exp_w, TICK_SIZE, 0),
                                   (exp_txt, 75.5, EXP_SIZE, 7)):
            annotations.append(dict(
                x=paper_x(xr), y=d, xref="paper", yref="y" + s, text=txt,
                showarrow=False, xanchor="right", yanchor="middle", yshift=ysh,
                borderpad=0, borderwidth=0,
                font=dict(family=FONT, size=size, color=BLACK)))

for r in range(2):
    text(25, row_top(r) + ROWH / 2 - 2, "d²σ/dE/dθ (mb/MeV/sr)", angle=-90)

layout["annotations"] = annotations
layout["shapes"] = shapes
fig.update_layout(**layout)

fig.write_html("out.html")
